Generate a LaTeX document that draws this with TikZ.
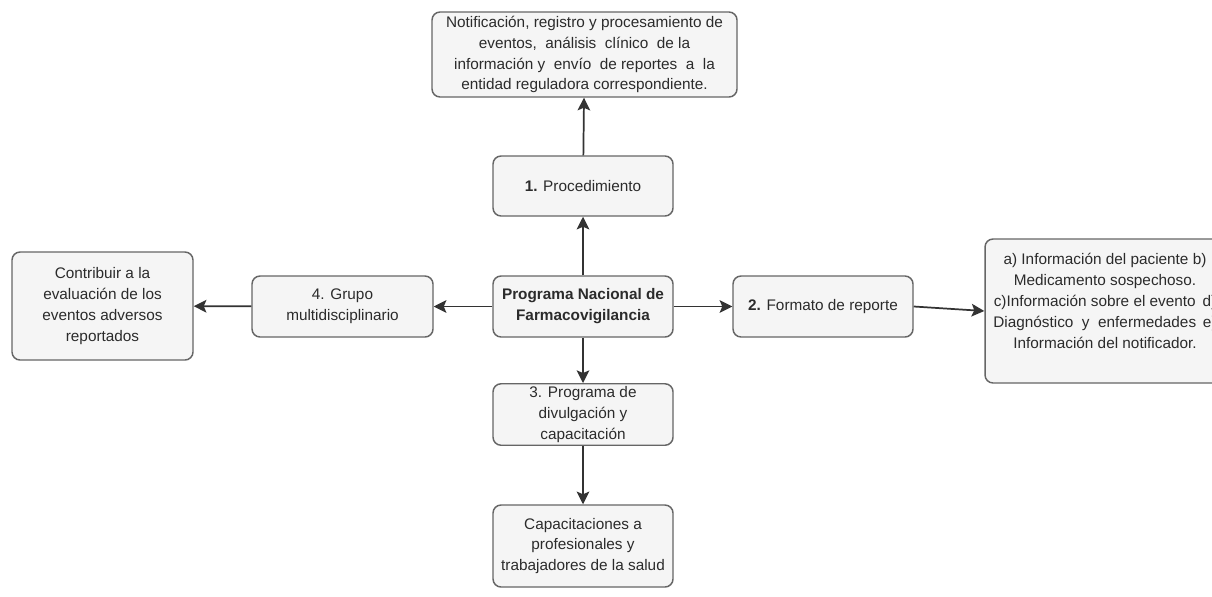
\documentclass[tikz,border=0pt]{standalone}
\usepackage{fontspec}
\setmainfont{Liberation Sans}
\usetikzlibrary{arrows.meta}
\definecolor{boxfill}{HTML}{F5F5F5}
\definecolor{boxline}{HTML}{666666}
\definecolor{boxtext}{HTML}{2B2B2B}
\begin{document}
\begin{tikzpicture}[x=0.75pt,y=-0.75pt,
	caja/.style={draw=boxline,fill=boxfill,line width=1.1pt,rounded corners=6pt,
		text=boxtext,align=center,inner sep=2pt,
		font=\fontsize{11.5}{15.7}\selectfont},
	flecha/.style={-{Stealth[length=9.5pt,width=9.5pt,inset=2pt]},line width=1.3pt,draw=black!80}]
			\useasboundingbox (0,0) rectangle (1212,596);
			\clip (0,0) rectangle (1212,596);
			\node[caja,minimum width=228.75pt,minimum height=63.75pt] (notif) at (584.5,54.5)
			{Notificación, registro y procesamiento de\\eventos, \ análisis \ clínico \ de la\\información y \ envío \ de reportes \ a \ la\\entidad reguladora correspondiente.};
			\node[caja,minimum width=135pt,minimum height=45pt] (proc) at (583,186)
			{\textbf{1.} Procedimiento};
			\node[caja,minimum width=135pt,minimum height=45.75pt,font=\fontsize{11.5}{15.7}\selectfont\bfseries] (prog) at (583,306.5)
			{Programa Nacional de\\Farmacovigilancia};
			\node[caja,minimum width=135.75pt,minimum height=45.75pt] (grupo) at (342.5,306.5)
			{4. Grupo\\multidisciplinario};
			\node[caja,minimum width=135.75pt,minimum height=81pt] (contrib) at (102.5,306)
			{Contribuir a la\\evaluación de los\\eventos adversos\\reportados};
			\node[caja,minimum width=135pt,minimum height=45.75pt] (formato) at (823,306.5)
			{\textbf{2.} Formato de reporte};
			\node[caja,minimum width=180pt,minimum height=108pt] (info) at (1105,311){};
			\node[text=boxtext,align=center,font=\fontsize{11.5}{15.7}\selectfont] (infotxt) at (1105,301)
			{a) Información del paciente b)\\Medicamento sospechoso.\\c)Información sobre el evento \,d)\\Diagnóstico \ y \ enfermedades \,e)\\Información del notificador.};
			\node[caja,minimum width=135pt,minimum height=45.75pt] (divul) at (583,414.5)
			{3. Programa de\\divulgación y\\capacitación};
			\node[caja,minimum width=135pt,minimum height=61.5pt] (capac) at (583,546)
			{Capacitaciones a\\profesionales y\\trabajadores de la salud};
			\draw[flecha] (prog) -- (proc);
			\draw[flecha] (proc) -- (notif);
			\draw[flecha] (prog) -- (grupo);
			\draw[flecha] (grupo) -- (contrib);
			\draw[flecha] (prog) -- (formato);
			\draw[flecha] (formato.east) -- (info.west);
			\draw[flecha] (prog) -- (divul);
			\draw[flecha] (divul) -- (capac);
		\end{tikzpicture}
\end{document}
